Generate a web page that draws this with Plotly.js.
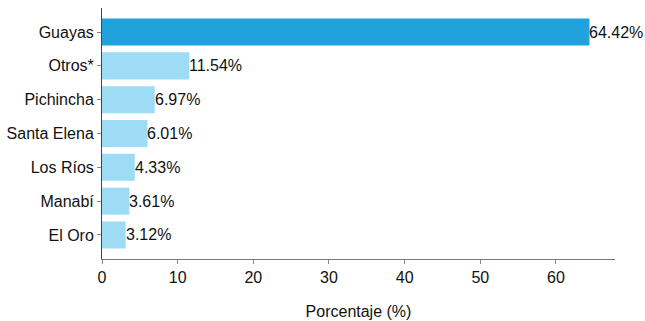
<!DOCTYPE html>
<html>
<head>
<meta charset="utf-8">
<script src="https://cdn.plot.ly/plotly-3.0.1.min.js"></script>
<style>html,body{margin:0;padding:0;background:#fff;}#chart{width:645px;height:321px;}</style>
</head>
<body>
<div id="chart"></div>
<script>
const provincias = ["Guayas", "Otros*", "Pichincha", "Santa Elena", "Los Ríos", "Manabí", "El Oro"];
const porcentajes = [64.42, 11.54, 6.97, 6.01, 4.33, 3.61, 3.12];
const etiquetas = porcentajes.map(v => v.toFixed(2) + "%");
const colores = provincias.map((p, i) => i === 0 ? "#22A2DC" : "#9EDBF5");

const FONT = "Liberation Sans, Arial, sans-serif";

const trace = {
  type: "bar",
  orientation: "h",
  y: provincias,
  x: porcentajes,
  marker: {color: colores, line: {width: 0}},
  width: 0.8,
  hoverinfo: "none"
};

const annotations = provincias.map((p, i) => ({
  x: porcentajes[i], y: p, xref: "x", yref: "y",
  text: etiquetas[i], showarrow: false,
  xanchor: "left", yanchor: "middle", xshift: -2,
  font: {family: FONT, size: 16, color: "#111"}
}));

const layout = {
  width: 645, height: 321,
  margin: {l: 102, r: 30, t: 8, b: 62},
  paper_bgcolor: "#fff", plot_bgcolor: "#fff",
  showlegend: false,
  font: {family: FONT, size: 16, color: "#111"},
  annotations: annotations,
  xaxis: {
    range: [0, 67.8],
    tickvals: [0, 10, 20, 30, 40, 50, 60],
    showgrid: false, zeroline: false,
    showline: true, linecolor: "#777", linewidth: 1,
    ticks: "outside", ticklen: 4, tickcolor: "#888",
    tickfont: {size: 16},
    title: {text: "Porcentaje (%)", font: {size: 16}, standoff: 20}
  },
  yaxis: {
    type: "category",
    categoryorder: "array", categoryarray: provincias,
    range: [6.71, -0.71],
    showgrid: false, zeroline: false,
    showline: true, linecolor: "#444", linewidth: 1,
    ticks: "outside", ticklen: 4, tickcolor: "#888",
    tickfont: {size: 16}
  }
};

Plotly.newPlot("chart", [trace], layout, {displayModeBar: false, staticPlot: true});
</script>
</body>
</html>
